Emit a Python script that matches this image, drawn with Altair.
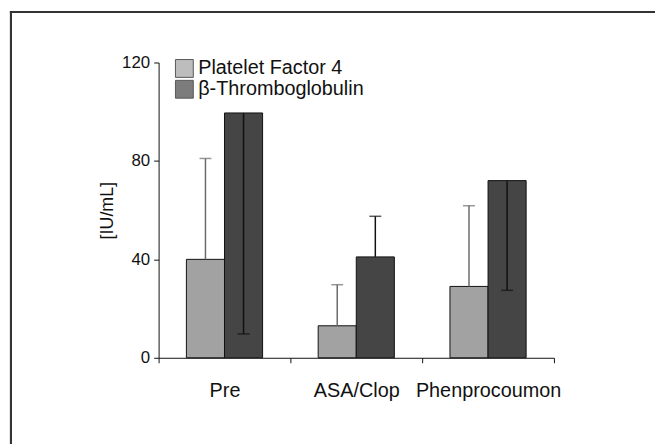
import altair as alt
import pandas as pd

groups = ["Pre", "ASA/Clop", "Phenprocoumon"]
series = ["Platelet Factor 4", "β-Thromboglobulin"]
pf4_mean = [40, 13, 29]
pf4_err_end = [81, 29.7, 61.8]
btg_mean = [99.5, 41, 72]
btg_err_end = [9.7, 57.5, 27.4]
err_colors = ["#6a6a6a", "#111111"]
y_ticks = [0, 40, 80, 120]

rows = []
for i, g in enumerate(groups):
    rows.append({"group": g, "series": series[0], "mean": pf4_mean[i], "end": pf4_err_end[i], "ecol": err_colors[0]})
    rows.append({"group": g, "series": series[1], "mean": btg_mean[i], "end": btg_err_end[i], "ecol": err_colors[1]})
df = pd.DataFrame(rows)

FONT = "Liberation Sans"
W, H = 399, 298

x = alt.X("group:N", sort=groups, title=None,
          scale=alt.Scale(paddingInner=0, paddingOuter=0),
          axis=alt.Axis(labelAngle=0, labelFontSize=20, labelColor="#111", labelFont=FONT,
                        tickBand="extent", tickSize=5, tickColor="#111", domainColor="#111",
                        labelPadding=18))
xo = alt.XOffset("series:N", sort=series, scale=alt.Scale(paddingOuter=0.73, paddingInner=0))

base = alt.Chart(df)

bars = base.mark_bar(stroke="#111", strokeWidth=1).encode(
    x=x, xOffset=xo,
    y=alt.Y("mean:Q", scale=alt.Scale(domain=[0, 120], nice=False), title="[IU/mL]",
            axis=alt.Axis(values=y_ticks, grid=False, tickSize=5, tickColor="#111", domainColor="#111",
                          labelFontSize=17, labelColor="#111", labelFont=FONT, labelPadding=4,
                          titleFontSize=18, titleFontWeight="normal", titleFont=FONT,
                          titleColor="#111", titlePadding=5)),
    color=alt.Color("series:N", sort=series,
                    scale=alt.Scale(domain=series, range=["#a2a2a2", "#454545"]),
                    legend=alt.Legend(title=None, orient="none", legendX=16, legendY=-4,
                                      symbolType="square", symbolSize=324,
                                      symbolStrokeColor="#111", symbolStrokeWidth=1,
                                      labelFontSize=20, labelFont=FONT, labelColor="#111",
                                      labelLimit=400, labelOffset=4, rowPadding=-3)),
)

err = base.mark_rule(strokeWidth=1.5).encode(
    x=x, xOffset=xo, y="mean:Q", y2="end:Q",
    color=alt.Color("ecol:N", scale=None),
)

caps = base.mark_tick(thickness=1.5, size=12).encode(
    x=x, xOffset=xo, y="end:Q",
    color=alt.Color("ecol:N", scale=None),
)

frame_top = alt.Chart(df).mark_rule(color="#333", strokeWidth=2).encode(
    x=alt.value(-150), x2=alt.value(W + 110), y=alt.value(-51))
frame_left = alt.Chart(df).mark_rule(color="#333", strokeWidth=2).encode(
    x=alt.value(-149), y=alt.value(-52), y2=alt.value(H + 90))

chart = alt.layer(bars, err, caps, frame_top, frame_left).properties(
    width=W, height=H,
    autosize=alt.AutoSizeParams(type="none"),
    padding={"left": 152, "top": 53, "right": 102, "bottom": 85},
    background="white",
).configure_view(stroke=None)

chart.save("out.html", embed_options={"renderer": "svg", "actions": False})
